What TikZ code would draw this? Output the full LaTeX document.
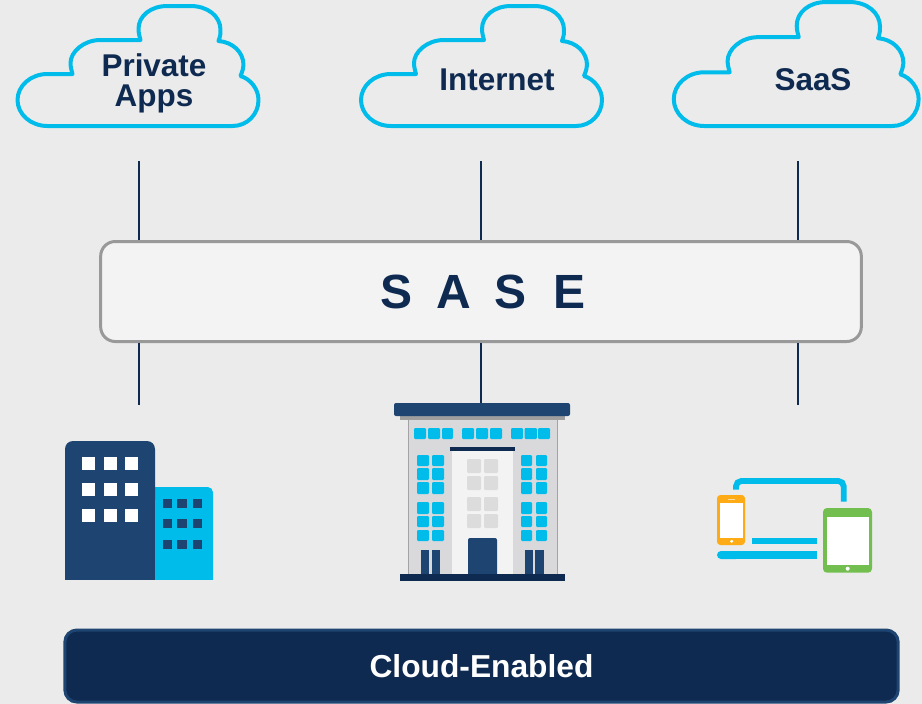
\documentclass[tikz,border=0pt]{standalone}
\usepackage{fontspec}
\setmainfont{Liberation Sans}
\definecolor{bgc}{HTML}{EBEBEB}
\definecolor{navy}{HTML}{0F2A50}
\definecolor{blu}{HTML}{1E4471}
\definecolor{cya}{HTML}{00BCEB}
\definecolor{lgr}{HTML}{D9D9DB}
\definecolor{pan}{HTML}{F3F3F4}
\definecolor{gwin}{HTML}{DCDCDD}
\definecolor{gedge}{HTML}{A3A3A5}
\definecolor{org}{HTML}{FFAB15}
\definecolor{grn}{HTML}{72BF4F}
\newcommand{\cloudshape}[4]{%
  \draw[cloudline,shift={(#1,#2)},xscale=#3,yscale=#4]
   (47,126) -- (232,126) .. controls (247,126) and (258,114) .. (258,100)
   .. controls (258,89) and (250,79) .. (240,76)
   .. controls (242,71) and (243,68) .. (243,65)
   .. controls (243,52) and (232,42) .. (218,41)
   .. controls (220,36) and (220,33) .. (220,30)
   .. controls (220,16) and (207,6) .. (190,6)
   -- (167,6) .. controls (150,6) and (138,16) .. (138,29)
   .. controls (138,33) and (139,36) .. (140,40)
   -- (100,40) .. controls (83,40) and (70,52) .. (70,63)
   .. controls (70,67) and (71,70) .. (72,74)
   -- (47,74) .. controls (30,74) and (17,86) .. (17,100)
   .. controls (17,114) and (30,126) .. (47,126) -- cycle;}
\tikzset{
  cloudline/.style={draw=cya,line width=3pt,line join=round},
  cloudtext/.style={text=navy,font=\fontsize{23.6}{22.5}\bfseries\selectfont,align=center,inner sep=0pt},
  conn/.style={draw=navy,line width=1.5pt},
  sasebox/.style={draw=black!40,line width=2.25pt,fill=pan,rounded corners=11pt,minimum width=570.5pt,minimum height=75pt,inner sep=0pt,text=navy,font=\fontsize{36}{40}\bfseries\selectfont},
  barbox/.style={draw=blu,line width=2.25pt,fill=navy,rounded corners=9pt,minimum width=625pt,minimum height=54pt,inner sep=0pt,text=white,font=\fontsize{23.8}{28}\bfseries\selectfont},
  cyw/.style={fill=cya,rounded corners=0.8pt},
  gw/.style={fill=gwin,rounded corners=0.8pt},
  dkw/.style={fill=blu},
}
\begin{document}
\begin{tikzpicture}[x=0.75pt,y=-0.75pt]
\useasboundingbox (0,0) rectangle (922,704);
\fill[bgc] (0,0) rectangle (922,704);
% clouds
\cloudshape{0.5}{0}{1}{1}
\cloudshape{344}{0}{1}{1}
\cloudshape{656.5}{-4.16}{1.016}{1.033}
\node[cloudtext] (private) at (154,83.5) {Private\\Apps};
\node[cloudtext] (internet) at (497,80) {Internet};
\node[cloudtext] (saas) at (813,80) {SaaS};
% SASE band
\node[sasebox] (sase) at (481,291.5) {\hspace{3pt}{\spaceskip=18pt S A S\hspace{2pt} E}};
% connectors
\coordinate (t1) at (138.5,161);
\coordinate (t2) at (481,161);
\coordinate (t3) at (797.5,161);
\coordinate (b1) at (138.5,405);
\coordinate (b2) at (481,405);
\coordinate (b3) at (797.5,405);
\draw[conn] (t1) -- (t1 |- sase.north);
\draw[conn] (t2) -- (t2 |- sase.north);
\draw[conn] (t3) -- (t3 |- sase.north);
\draw[conn] (b1 |- sase.south) -- (b1);
\draw[conn] (b2 |- sase.south) -- (b2);
\draw[conn] (b3 |- sase.south) -- (b3);
% office buildings, left
\fill[cya,rounded corners=4pt] (150,580) -- (150,487) -- (213,487) -- (213,590) -- cycle;
\fill[bgc] (140,580) rectangle (220,590);
\fill[blu,rounded corners=6pt] (65,590) -- (65,441) -- (155,441) -- (155,590) -- cycle;
\fill[bgc] (60,580) rectangle (160,592);
\fill[cya] (155,500) rectangle (213,580);
\foreach \x in {82,104,125} \foreach \y in {457,483,509}
  \fill[white] (\x,\y) rectangle ++(13,13);
\foreach \x/\w in {163/9,177/10,193/9} \foreach \y in {499,519,540}
  \fill[dkw] (\x,\y) rectangle ++(\w,9);
% central building
\fill[lgr,draw=gedge,line width=0.6pt] (408,419) rectangle (557,575);
\fill[black!38] (400,414) rectangle (565,419.5);
\fill[blu,rounded corners=1.5pt] (394,403) rectangle (570,416);
\fill[pan] (452,451) rectangle (513,575);
\fill[navy] (450,447) rectangle (515,451);
\foreach \a/\b in {414/426,428/440,442/453,462/474,476/488,490/502,511/523,524.5/537,538/550}
  \fill[cyw] (\a,428) rectangle (\b,439);
\foreach \a/\b in {417/429,432/444,521/532,536/547}
  \foreach \c/\d in {455/466,468/480,482/494,502/514,516/527,530/541}
    \fill[cyw] (\a,\c) rectangle (\b,\d);
\foreach \a/\b in {467/481,484/498}
  \foreach \c/\d in {459/473,476/490,497/511,514/528}
    \fill[gw] (\a,\c) rectangle (\b,\d);
\fill[blu,rounded corners=1.5pt] (468,580) -- (468,538) -- (497,538) -- (497,580) -- cycle;
\foreach \a/\b in {421/429,432/440,525/533,535/544}
  \fill[blu] (\a,550) rectangle (\b,574);
\fill[navy] (400,574) rectangle (564.5,581);
% devices
\draw[cya,line width=4.4pt,rounded corners=4pt] (736,489.5) -- (736,481) -- (843.7,481) -- (843.7,501.7);
\fill[org,rounded corners=2.5pt] (717,495) rectangle (745,545);
\fill[white] (720,503) rectangle (743,538);
\fill[white] (731.7,541.3) circle[radius=1.7];
\draw[white,opacity=.6,line width=.6pt] (728,499.3) -- (735,499.3);
\fill[cya] (752,538) rectangle (817,544);
\fill[cya,rounded corners=3pt] (717,551) rectangle (740,559);
\fill[cya] (725,551) rectangle (816.7,559);
\fill[grn,rounded corners=3pt] (823,508) rectangle (872,572.7);
\fill[white] (827,517) rectangle (869,565);
\fill[white] (847.7,568.7) circle[radius=2];
% bottom band
\node[barbox] (cloud) at (481.5,666) {Cloud-Enabled};
\end{tikzpicture}
\end{document}
